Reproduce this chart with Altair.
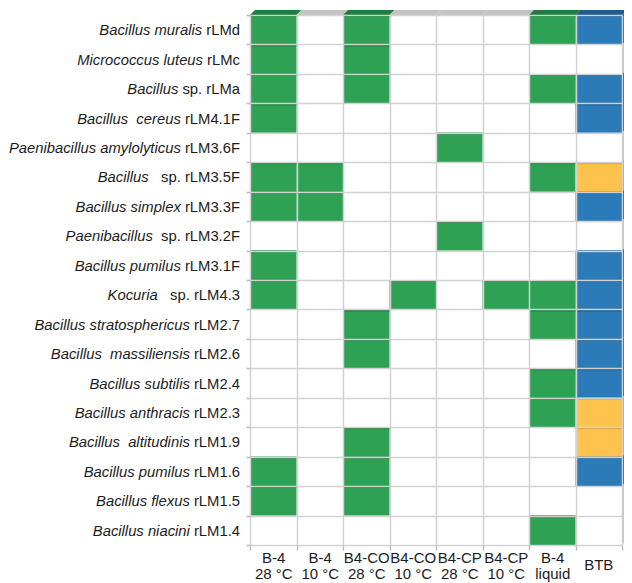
import altair as alt
import pandas as pd

# ---------------- data ----------------
rows = [
    "Bacillus muralis rLMd", "Micrococcus luteus rLMc", "Bacillus sp. rLMa",
    "Bacillus cereus rLM4.1F", "Paenibacillus amylolyticus rLM3.6F",
    "Bacillus sp. rLM3.5F", "Bacillus simplex rLM3.3F", "Paenibacillus sp. rLM3.2F",
    "Bacillus pumilus rLM3.1F", "Kocuria sp. rLM4.3", "Bacillus stratosphericus rLM2.7",
    "Bacillus massiliensis rLM2.6", "Bacillus subtilis rLM2.4", "Bacillus anthracis rLM2.3",
    "Bacillus altitudinis rLM1.9", "Bacillus pumilus rLM1.6", "Bacillus flexus rLM1.5",
    "Bacillus niacini rLM1.4",
]
italic_parts = [
    "Bacillus muralis", "Micrococcus luteus", "Bacillus", "Bacillus\u00a0 cereus",
    "Paenibacillus amylolyticus", "Bacillus", "Bacillus simplex", "Paenibacillus",
    "Bacillus pumilus", "Kocuria", "Bacillus stratosphericus", "Bacillus\u00a0 massiliensis",
    "Bacillus subtilis", "Bacillus anthracis", "Bacillus\u00a0 altitudinis",
    "Bacillus pumilus", "Bacillus flexus", "Bacillus niacini",
]
normal_parts = [
    " rLMd", " rLMc", " sp. rLMa", " rLM4.1F", " rLM3.6F", "   sp. rLM3.5F", " rLM3.3F",
    "  sp. rLM3.2F", " rLM3.1F", "   sp. rLM4.3", " rLM2.7", " rLM2.6", " rLM2.4",
    " rLM2.3", " rLM1.9", " rLM1.6", " rLM1.5", " rLM1.4",
]
cols = ["B-4|28 °C", "B-4|10 °C", "B4-CO|28 °C", "B4-CO|10 °C",
        "B4-CP|28 °C", "B4-CP|10 °C", "B-4|liquid", "BTB"]

col_b4_28 = [1, 1, 1, 1, 0, 1, 1, 0, 1, 1, 0, 0, 0, 0, 0, 1, 1, 0]
col_b4_10 = [0, 0, 0, 0, 0, 1, 1, 0, 0, 0, 0, 0, 0, 0, 0, 0, 0, 0]
col_co_28 = [1, 1, 1, 0, 0, 0, 0, 0, 0, 0, 1, 1, 0, 0, 1, 1, 1, 0]
col_co_10 = [0, 0, 0, 0, 0, 0, 0, 0, 0, 1, 0, 0, 0, 0, 0, 0, 0, 0]
col_cp_28 = [0, 0, 0, 0, 1, 0, 0, 1, 0, 0, 0, 0, 0, 0, 0, 0, 0, 0]
col_cp_10 = [0, 0, 0, 0, 0, 0, 0, 0, 0, 1, 0, 0, 0, 0, 0, 0, 0, 0]
col_liquid = [1, 0, 1, 0, 0, 1, 0, 0, 0, 1, 1, 0, 1, 1, 0, 0, 0, 1]
btb = ["blue", "", "blue", "blue", "", "yellow", "blue", "", "blue", "blue",
       "blue", "blue", "blue", "yellow", "yellow", "blue", "", ""]

# ---------------- style ----------------
FILL = {"green": "#2ea155", "blue": "#2b7bb9", "yellow": "#fdc34c", "none": "#ffffff"}
DARK = {"green": "#1f7d3d", "blue": "#1e5b8c", "yellow": "#dba233", "none": "#c3c3c3"}
FONT = "Liberation Sans"
TXT = "#1c1c1c"
GRID = "#d2d2d2"
FS = 14.8
W, H = 372, 530
colW = W / len(cols)
rowH = H / len(rows)

# Arial / Liberation Sans advance widths (per 1000 em)
ADV = {" ": 278, ".": 278, "r": 333, "L": 556, "M": 833, "F": 611, "a": 556,
       "c": 500, "d": 556, "s": 500, "p": 556}


def text_width(s):
    return sum(ADV.get(ch, 556) for ch in s) / 1000 * FS


label_gap = 10.0

presence = [col_b4_28, col_b4_10, col_co_28, col_co_10, col_cp_28, col_cp_10, col_liquid]
records = []
for i, r in enumerate(rows):
    for j, c in enumerate(cols):
        if j < 7:
            st = "green" if presence[j][i] else "none"
        else:
            st = btb[i] if btb[i] else "none"
        records.append(dict(row=r, col=c, status=st, fill=FILL[st], dark=DARK[st],
                            first=(i == 0), last=(j == len(cols) - 1)))
cells = pd.DataFrame(records)

labels = pd.DataFrame({
    "row": rows,
    "italic": italic_parts,
    "normal": [n.strip() for n in normal_parts],
    "nx": [-label_gap] * len(rows),
    "ix": [-label_gap - text_width(n) for n in normal_parts],
})

# ---------------- encodings ----------------
xenc = alt.X(
    "col:N", sort=cols,
    scale=alt.Scale(type="band", domain=cols, paddingInner=0, paddingOuter=0),
    axis=alt.Axis(title=None, orient="bottom",
                  labelExpr="indexof(datum.label, '|') < 0 ? '' : split(datum.label, '|')",
                  labelAngle=0, labelFont=FONT, labelFontSize=15, labelColor=TXT,
                  labelBaseline="middle", labelPadding=7, labelLineHeight=16,
                  labelOverlap=False, tickBand="extent", tickSize=5,
                  tickColor="#bdbdbd", tickWidth=1.5, grid=True, gridColor=GRID,
                  gridWidth=1.5, domain=False),
)
yenc = alt.Y(
    "row:N", sort=rows,
    scale=alt.Scale(type="band", domain=rows, paddingInner=0, paddingOuter=0),
    axis=alt.Axis(title=None, labels=False, tickBand="extent", tickSize=4,
                  tickColor="#bdbdbd", tickWidth=1.5, grid=True, gridColor=GRID,
                  gridWidth=1.5, domain=False),
)

base = alt.Chart(cells)

rects = base.mark_rect(opacity=1).encode(
    x=xenc, y=yenc, color=alt.Color("fill:N", scale=None)
).transform_filter("datum.status != 'none'")

edges = base.mark_tick(orient="horizontal", thickness=2, size=colW,
                       yOffset=-(rowH / 2) + 1, opacity=1).encode(
    x=xenc, y=yenc, color=alt.Color("dark:N", scale=None)
).transform_filter("datum.status != 'none'")

s = colW / 2
d = 5 / s
top_path = f"M -1 0 L 1 0 L {1 + d:.4f} {-d:.4f} L {-1 + d:.4f} {-d:.4f} Z"
hr = (rowH / 2) / s
right_path = f"M 0 {hr:.4f} L 0 {-hr:.4f} L {d:.4f} {-hr - d:.4f} L {d:.4f} {hr - d:.4f} Z"

top_face = base.mark_point(shape=top_path, size=colW ** 2, filled=True, opacity=1,
                           strokeWidth=0).encode(
    x=xenc, y=alt.value(0), color=alt.Color("dark:N", scale=None)
).transform_filter("datum.first")

right_face = base.mark_point(shape=right_path, size=colW ** 2, filled=True, opacity=1,
                             strokeWidth=0).encode(
    x=alt.value(W), y=yenc, color=alt.Color("dark:N", scale=None)
).transform_filter("datum.last")

# single-line column label (vertically centred between the two label lines)
btb_label = base.mark_text(baseline="middle", font=FONT, fontSize=15, color=TXT).encode(
    x=xenc, y=alt.value(H + 20), text="col:N"
).transform_filter("datum.first && datum.last")

lab = alt.Chart(labels)
txt_normal = lab.mark_text(align="right", baseline="middle", font=FONT, fontSize=FS,
                           color=TXT, dy=1.5).encode(
    x=alt.X("nx:Q", scale=None, axis=None), y=yenc, text="normal:N")
txt_italic = lab.mark_text(align="right", baseline="middle", font=FONT, fontSize=FS,
                           fontStyle="italic", color=TXT, dy=1.5).encode(
    x=alt.X("ix:Q", scale=None, axis=None), y=yenc, text="italic:N")

chart = alt.layer(rects, edges, top_face, right_face, btb_label,
                  txt_normal, txt_italic).properties(
    width=W, height=H,
    autosize=alt.AutoSizeParams(type="none"),
    padding={"left": 242, "top": 7, "right": 2, "bottom": 38},
).configure_view(stroke=None).configure(background="white")

chart.save("out.html", embed_options={"renderer": "svg", "actions": False})
